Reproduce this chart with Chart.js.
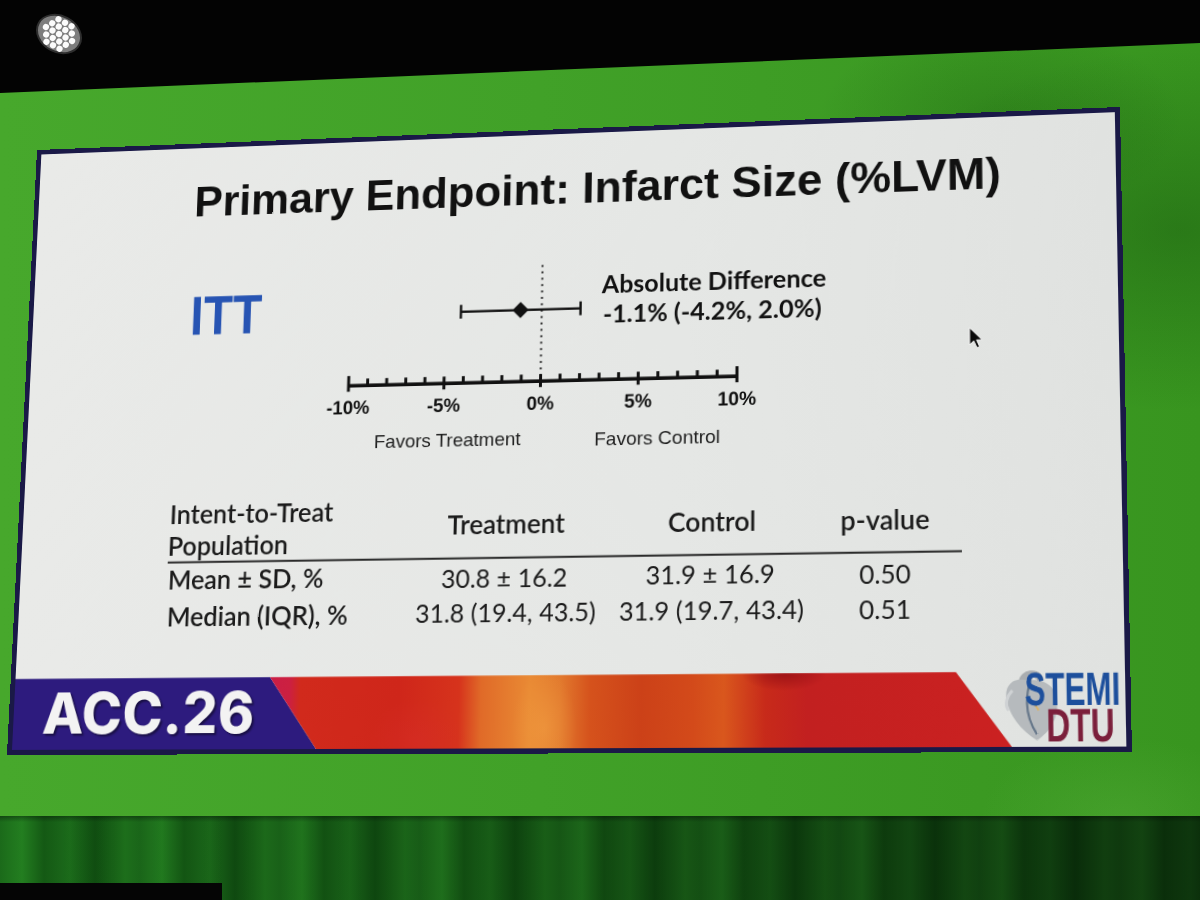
<!DOCTYPE html>
<html><head><meta charset="utf-8">
<script src="https://cdn.jsdelivr.net/npm/chart.js@4.4.1/dist/chart.umd.min.js"></script>
<style>
html,body{margin:0;padding:0;width:1200px;height:900px;overflow:hidden;background:#3e9f27;}
#bg{position:absolute;left:0;top:0;width:1200px;height:900px;
 background:
  radial-gradient(ellipse 420px 260px at 1180px 230px, rgba(15,70,10,0.35), rgba(0,0,0,0) 70%),
  radial-gradient(ellipse 260px 140px at 1000px 120px, rgba(15,70,10,0.25), rgba(0,0,0,0) 70%),
  radial-gradient(ellipse 200px 120px at 1120px 820px, rgba(120,200,90,0.18), rgba(0,0,0,0) 70%),
  linear-gradient(90deg,#47a82c 0%,#41a128 45%,#38951f 100%);}
#topband{position:absolute;left:0;top:0;width:1200px;height:100px;background:#030303;clip-path:polygon(0 0,1200px 0,1200px 43px,0 93px);}
#curtain{position:absolute;left:0;top:816px;width:1200px;height:84px;
 background:
  linear-gradient(180deg, rgba(0,0,0,0.35) 0px, rgba(0,0,0,0) 6px),
  linear-gradient(90deg, rgba(0,0,0,0) 0%, rgba(0,0,0,0.15) 40%, rgba(0,0,0,0.5) 100%),
  repeating-linear-gradient(90deg,#1b6a1a 0px,#237f20 22px,#145a14 44px,#1c6d1b 70px,#104f11 95px,#1e721c 125px,#1b6a1a 140px);}
#blackcorner{position:absolute;left:0;top:883px;width:222px;height:17px;background:#050505;}
#fixture{position:absolute;left:28px;top:7px;}
#slide{position:absolute;left:0;top:0;width:1104px;height:624px;transform-origin:0 0;
 background:linear-gradient(90deg,#e9eae8,#e5e7e5 60%,#e0e2e0);box-shadow:inset 0 0 0 5px #1a1947;}
.t{position:absolute;white-space:nowrap;line-height:1;}
.c{transform:translate(-50%,-50%);}
.l{transform:translate(0,-50%);}
#title{font-family:"Liberation Sans",Arial,sans-serif;font-weight:bold;font-size:45px;color:#111;}
#itt{font-family:"Liberation Sans",Arial,sans-serif;font-weight:bold;font-size:57px;color:#2754b3;transform:translate(-50%,-50%) scaleX(0.88);}
.ad{font-family:Lato,"Open Sans",sans-serif;font-weight:700;font-size:25px;color:#111;}
.fav{font-family:"Liberation Sans",Arial,sans-serif;font-size:19px;color:#1e1e1e;}
.tb{font-family:Lato,"Open Sans",sans-serif;font-size:25px;color:#1b1b1b;}
.hd{font-weight:600;font-size:26px;}
.val{font-weight:400;}
#rule{position:absolute;height:2.5px;background:#2a2a2a;transform:translate(0,-50%);}
#wrap{position:absolute;left:285px;top:100px;}
#purple,#red{position:absolute;left:0;top:0;width:1104px;height:624px;}
#purple{background:#2d1b7e;}
#red{background:
  radial-gradient(ellipse 48px 20px at 778px 548px, rgba(150,15,20,0.85), rgba(0,0,0,0) 85%),
  radial-gradient(ellipse 40px 70px at 545px 600px, rgba(245,165,70,0.45), rgba(0,0,0,0) 80%),
  radial-gradient(ellipse 60px 50px at 420px 610px, rgba(215,45,40,0.5), rgba(0,0,0,0) 80%),
  linear-gradient(90deg,#c91d4a 256px,#cc2040 290px,#d12a1c 300px,#cf261a 400px,#d6331c 460px,#e06a28 482px,#e98a34 530px,#e27a2e 560px,#d5521c 590px,#cc4118 640px,#d34a1a 690px,#d9571d 720px,#c72a1a 760px,#c22020 800px,#cb2121 990px);}
#acc{font-family:Inter,"Open Sans",sans-serif;font-weight:800;font-size:56px;color:#f3f3f3;text-shadow:2px 2px 2px rgba(0,0,0,0.45);letter-spacing:0.5px;}
#stemi{font-family:"Liberation Sans",Arial,sans-serif;font-weight:bold;font-size:44px;color:#1d4f9c;transform:translate(-50%,-50%) scaleX(0.66);}
#dtu{font-family:"Liberation Sans",Arial,sans-serif;font-weight:bold;font-size:44px;color:#7b1f3b;transform:translate(-50%,-50%) scaleX(0.7);}
#heart{position:absolute;}
#cursor{position:absolute;}
</style></head>
<body>
<div id="bg"></div>
<div id="topband"></div>
<svg id="fixture" width="62" height="54"></svg>
<div id="curtain"></div>
<div id="blackcorner"></div>

<div id="slide">
  <div id="title" class="t c" data-s="588,187">Primary Endpoint: Infarct Size (%LVM)</div>
  <div id="itt" class="t" data-s="226.5,315"></div>
  <div id="wrap"><canvas id="forest"></canvas></div>
  <div id="ad1" class="t l ad" data-s="602,283"></div>
  <div id="ad2" class="t l ad" data-s="603,313"></div>
  <div id="fav1" class="t c fav" data-s="447,440"></div>
  <div id="fav2" class="t c fav" data-s="657,437"></div>
  <div id="table"></div>
  <div id="rule"></div>
  <svg id="cursor" data-s="968,327" width="16" height="24" viewBox="0 0 16 24"><path d="M1,1 L1,18 L5,14.2 L8,21 L10.6,19.9 L7.7,13.3 L13,13.3 Z" fill="#0a0a0a" stroke="#f4f4f4" stroke-width="1"/></svg>
  <div id="purple"></div>
  <div id="red"></div>
  <div id="acc" class="t c" data-s="148,713">ACC.26</div>
  <svg id="heart" data-s="998,667" width="62" height="76" viewBox="0 0 66 74">
    <path d="M24,12 C24,2 40,0 42,10" fill="none" stroke="#a9adb0" stroke-width="7"/>
    <path d="M30,10 C16,6 6,14 8,28 C10,44 22,60 38,70 C50,62 60,48 58,30 C57,16 46,8 30,10 Z" fill="#b6babd"/>
    <path d="M14,20 C8,26 6,34 10,40" fill="none" stroke="#cfd2d4" stroke-width="3"/>
    <path d="M33,6 C28,22 24,42 38,64" fill="none" stroke="#66778a" stroke-width="2.2"/>
    <path d="M36,34 L40,40" stroke="#d9b36a" stroke-width="2"/>
  </svg>
  <div id="stemi" class="t" data-s="1072,689">STEMI</div>
  <div id="dtu" class="t" data-s="1081,725">DTU</div>
</div>

<script>
// ---------------- data ----------------
const forestRows = ['ITT'];
const diffEstimate = [-1.1];
const diffLower = [-4.2];
const diffUpper = [2.0];
const xTickValues = [-10, -5, 0, 5, 10];
const xTickLabels = ['-10%', '-5%', '0%', '5%', '10%'];
const favorLabels = ['Favors Treatment', 'Favors Control'];
const diffTitle = 'Absolute Difference';

const tableCorner = ['Intent-to-Treat', 'Population'];
const tableColumns = ['Treatment', 'Control', 'p-value'];
const rowLabels = ['Mean \u00B1 SD, %', 'Median (IQR), %'];
const treatmentMeanSD = [30.8, 16.2];
const controlMeanSD = [31.9, 16.9];
const treatmentMedianIQR = [31.8, 19.4, 43.5];
const controlMedianIQR = [31.9, 19.7, 43.4];
const pValues = [0.50, 0.51];

// ---------------- perspective of the photographed slide ----------------
const SW = 1104, SH = 624;
const QUAD = [37,150, 1120,107, 1132,752, 7,755];
function quadMatrix(q){
  const [x0,y0,x1,y1,x2,y2,x3,y3] = q;
  const dx1=x1-x2, dx2=x3-x2, dx3=x0-x1+x2-x3;
  const dy1=y1-y2, dy2=y3-y2, dy3=y0-y1+y2-y3;
  const den = dx1*dy2 - dx2*dy1;
  const g = (dx3*dy2 - dx2*dy3)/den, h = (dx1*dy3 - dx3*dy1)/den;
  return {a:x1-x0+g*x1, b:x3-x0+h*x3, c:x0, d:y1-y0+g*y1, e:y3-y0+h*y3, f:y0, g, h};
}
const HM = quadMatrix(QUAD);
const INV = (function(m){
  const [[p,q,r],[s,t,u],[v,w,x]] = [[m.a,m.b,m.c],[m.d,m.e,m.f],[m.g,m.h,1]];
  const det = p*(t*x-u*w) - q*(s*x-u*v) + r*(s*w-t*v);
  return [[(t*x-u*w)/det, (r*w-q*x)/det, (q*u-r*t)/det],
          [(u*v-s*x)/det, (p*x-r*v)/det, (r*s-p*u)/det],
          [(s*w-t*v)/det, (q*v-p*w)/det, (p*t-q*s)/det]];
})(HM);
function toFlat(sx, sy){
  const X = INV[0][0]*sx + INV[0][1]*sy + INV[0][2];
  const Y = INV[1][0]*sx + INV[1][1]*sy + INV[1][2];
  const Z = INV[2][0]*sx + INV[2][1]*sy + INV[2][2];
  return {x: X/Z*SW, y: Y/Z*SH};
}
(function(){
  const m = HM;
  const mm = [m.a/SW, m.d/SW, 0, m.g/SW,  m.b/SH, m.e/SH, 0, m.h/SH,  0,0,1,0,  m.c, m.f, 0, 1];
  document.getElementById('slide').style.transform = 'matrix3d(' + mm.join(',') + ')';
})();
function placeAt(el, sx, sy){ const p = toFlat(sx, sy); el.style.left = p.x + 'px'; el.style.top = p.y + 'px'; }

// ---------------- texts ----------------
const f1 = v => v.toFixed(1);
document.getElementById('itt').textContent = forestRows[0];
document.getElementById('ad1').textContent = diffTitle;
document.getElementById('ad2').textContent = `${f1(diffEstimate[0])}% (${f1(diffLower[0])}%, ${f1(diffUpper[0])}%)`;
document.getElementById('fav1').textContent = favorLabels[0];
document.getElementById('fav2').textContent = favorLabels[1];

(function buildTable(){
  const headS = [[506,524],[712,521],[885,519]];
  const rowS = [[[504,577],[710,574],[885,573]], [[505,612],[711,610],[885,609]]];
  const rowLabS = [[168,580],[167,617]];
  let h = '';
  h += `<div class="t l tb hd" data-s="170,514">${tableCorner[0]}</div>`;
  h += `<div class="t l tb hd" data-s="168,546">${tableCorner[1]}</div>`;
  tableColumns.forEach((c,i)=>{ h += `<div class="t c tb hd" data-s="${headS[i]}">${c}</div>`; });
  const rows = [
    [`${f1(treatmentMeanSD[0])} \u00B1 ${f1(treatmentMeanSD[1])}`, `${f1(controlMeanSD[0])} \u00B1 ${f1(controlMeanSD[1])}`, pValues[0].toFixed(2)],
    [`${f1(treatmentMedianIQR[0])} (${f1(treatmentMedianIQR[1])}, ${f1(treatmentMedianIQR[2])})`, `${f1(controlMedianIQR[0])} (${f1(controlMedianIQR[1])}, ${f1(controlMedianIQR[2])})`, pValues[1].toFixed(2)]
  ];
  rowLabels.forEach((lab,r)=>{
    h += `<div class="t l tb hd" data-s="${rowLabS[r]}">${lab}</div>`;
    rows[r].forEach((v,i)=>{ h += `<div class="t c tb val" data-s="${rowS[r][i]}">${v}</div>`; });
  });
  document.getElementById('table').innerHTML = h;
  const a = toFlat(168,562), b = toFlat(962,552), rule = document.getElementById('rule');
  rule.style.left = a.x + 'px'; rule.style.top = ((a.y+b.y)/2) + 'px'; rule.style.width = (b.x - a.x) + 'px';
})();

document.querySelectorAll('[data-s]').forEach(el=>{
  const [sx, sy] = el.getAttribute('data-s').split(',').map(Number);
  placeAt(el, sx, sy);
});

// banner shapes
(function(){
  const tl = toFlat(10,680), tr = toFlat(1125,670);
  const topY = (tl.y + tr.y)/2, botY = SH - 5;
  const pT = toFlat(270,678).x, pB = toFlat(316,747).x;
  const rT = toFlat(956,671).x, rB = toFlat(1012,747).x;
  document.getElementById('purple').style.clipPath = `polygon(5px ${topY}px, ${pT}px ${topY}px, ${pB}px ${botY}px, 5px ${botY}px)`;
  document.getElementById('red').style.clipPath = `polygon(${pT}px ${topY}px, ${rT}px ${topY}px, ${rB}px ${botY}px, ${pB}px ${botY}px)`;
})();

// fixture light
(function(){
  const svg = document.getElementById('fixture');
  let s = '<g transform="translate(31,27) rotate(28)"><ellipse rx="23" ry="18" fill="#7d7d7d" stroke="#2e2e2e" stroke-width="2"/>';
  for (let r=-2;r<=2;r++){ for (let c=-3;c<=3;c++){
    const x=c*7.4+(r%2?3.7:0), y=r*6.4;
    if ((x*x)/(19.5*19.5)+(y*y)/(15*15)<=1) s+=`<circle cx="${x}" cy="${y}" r="3.1" fill="#fbfbfb"/>`;
  }}
  s+='</g>'; svg.innerHTML = s;
})();

// ---------------- chart ----------------
const axL = toFlat(349,386), axR = toFlat(737,376);
const axisY = (axL.y + axR.y)/2;
const dotTopY = toFlat(542,265).y;
const barY = toFlat(520,310).y;
const PADX = 40, CH = 200;
const CW = Math.round(axR.x - axL.x) + 2*PADX;
const ROW_Y = (axisY - barY)/(axisY - dotTopY);

const forestPlugin = {
  id: 'forestDecor',
  beforeDatasetsDraw(chart){
    const {ctx, chartArea, scales:{x, y}} = chart;
    ctx.save();
    ctx.strokeStyle = '#2a2a2a'; ctx.lineWidth = 2; ctx.setLineDash([2,4.5]);
    const x0 = x.getPixelForValue(0);
    ctx.beginPath(); ctx.moveTo(x0, chartArea.top); ctx.lineTo(x0, chartArea.bottom); ctx.stroke();
    ctx.setLineDash([]);
    ctx.strokeStyle = '#111'; ctx.lineWidth = 2.4;
    diffEstimate.forEach((v,i)=>{
      const py = y.getPixelForValue(ROW_Y);
      const xl = x.getPixelForValue(diffLower[i]), xu = x.getPixelForValue(diffUpper[i]);
      ctx.beginPath(); ctx.moveTo(xl, py); ctx.lineTo(xu, py);
      ctx.moveTo(xl, py-7); ctx.lineTo(xl, py+7);
      ctx.moveTo(xu, py-7); ctx.lineTo(xu, py+7);
      ctx.stroke();
    });
    ctx.restore();
  },
  afterDraw(chart){
    const {ctx, chartArea, scales:{x}} = chart;
    const yb = chartArea.bottom;
    ctx.save();
    ctx.strokeStyle = '#111'; ctx.lineCap = 'butt';
    ctx.lineWidth = 3.6;
    ctx.beginPath(); ctx.moveTo(x.getPixelForValue(x.min)-1.5, yb); ctx.lineTo(x.getPixelForValue(x.max)+1.5, yb); ctx.stroke();
    ctx.lineWidth = 3;
    x.ticks.forEach(t=>{
      const px = x.getPixelForValue(t.value);
      const major = xTickValues.includes(t.value);
      const end = (t.value === x.min || t.value === x.max);
      ctx.beginPath();
      if (end) { ctx.moveTo(px, yb-10); ctx.lineTo(px, yb+6); }
      else if (major) { ctx.moveTo(px, yb-7); ctx.lineTo(px, yb+6); }
      else { ctx.moveTo(px, yb-7); ctx.lineTo(px, yb); }
      ctx.stroke();
    });
    ctx.restore();
  }
};

const cv = document.getElementById('forest');
cv.style.width = CW + 'px'; cv.style.height = CH + 'px';
const chart = new Chart(cv, {
  type: 'scatter',
  data: {
    datasets: [{
      label: forestRows[0],
      data: diffEstimate.map(v => ({x: v, y: ROW_Y})),
      pointStyle: 'rectRot',
      pointRadius: 7.5,
      backgroundColor: '#111',
      borderColor: '#111',
      borderWidth: 1
    }]
  },
  options: {
    responsive: false,
    animation: false,
    devicePixelRatio: 2,
    layout: { padding: { left: PADX, right: PADX, top: 6, bottom: 0 } },
    plugins: { legend: { display: false }, tooltip: { enabled: false } },
    scales: {
      x: {
        type: 'linear', min: -10, max: 10, position: 'bottom',
        grid: { display: false, drawTicks: false },
        border: { display: false },
        ticks: {
          stepSize: 1, autoSkip: false, maxRotation: 0, padding: 12,
          color: '#111',
          font: { family: '"Liberation Sans", Arial, sans-serif', size: 19, weight: 'bold' },
          callback: (v) => { const i = xTickValues.indexOf(v); return i >= 0 ? xTickLabels[i] : ''; }
        }
      },
      y: { display: false, min: 0, max: 1 }
    }
  },
  plugins: [forestPlugin]
});
(function(){
  const s = CH - chart.chartArea.bottom;
  chart.options.layout.padding.top = Math.max(0, CH - s - (axisY - dotTopY));
  chart.update('none');
  const ca = chart.chartArea, wrap = document.getElementById('wrap');
  wrap.style.left = (axL.x - ca.left) + 'px';
  wrap.style.top = (axisY - ca.bottom) + 'px';
})();
</script>
</body></html>
